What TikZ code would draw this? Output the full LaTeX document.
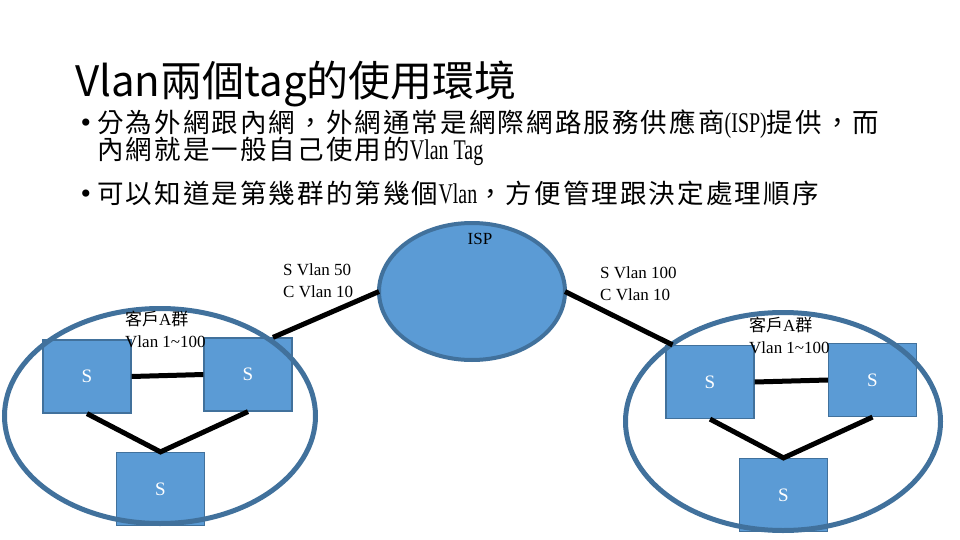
\documentclass[tikz,border=0pt]{standalone}
\usepackage{fontspec}
\setmainfont{Liberation Serif}
\newfontfamily\cjk{Noto Sans CJK TC}
\newfontfamily\cjkb[LetterSpace=8]{Noto Sans CJK TC}
\newfontfamily\nar[FakeStretch=0.7]{Liberation Serif}
\usetikzlibrary{shapes.geometric, calc}
\definecolor{cfill}{HTML}{5B9BD5}
\definecolor{cline}{HTML}{41719C}
\tikzset{
  every picture/.style={x=1pt, y=-1pt},
  title/.style={anchor=base west, inner sep=0pt, font=\cjk\fontsize{42}{48}\selectfont},
  body/.style={anchor=base west, inner sep=0pt, font=\fontsize{26.5}{34}\selectfont},
  sw/.style={draw=cline, fill=cfill, line width=1.2pt, minimum width=88pt, minimum height=73pt,
    inner sep=0pt, text=white, font=\fontsize{19}{22}\selectfont},
  grp/.style={ellipse, draw=cline, line width=5pt, inner sep=0pt},
  isp/.style={ellipse, draw=cline, fill=cfill, line width=4pt, inner sep=0pt, outer sep=0pt,
    minimum width=186pt, minimum height=137pt},
  link/.style={draw=black, line width=5pt},
  lbl/.style={inner sep=0pt, align=left, font=\fontsize{17}{22}\selectfont},
}

\begin{document}
\begin{tikzpicture}
  \useasboundingbox (0,0) rectangle (960,540);
  % title and bullets
  \node[title] (ttl) at (75,97) {Vlan兩個tag的使用環境};
  \node[body, anchor=base, font=\fontsize{30}{34}\selectfont] (dot1) at (86,133) {•};
  \node[body] (l1) at (97,133) {\cjkb 分為外網跟內網，外網通常是網際網路服務供應商{\nar\fontsize{28.5}{34}\selectfont (ISP)}提供，而};
  \node[body] (l2) at (97,160) {\cjkb 內網就是一般自己使用的{\nar\fontsize{28.5}{34}\selectfont Vlan Tag}};
  \node[body, anchor=base, font=\fontsize{30}{34}\selectfont] (dot2) at (86,203.5) {•};
  \node[body] (l3) at (97,203.5) {\cjkb 可以知道是第幾群的第幾個{\nar\fontsize{28.5}{34}\selectfont Vlan}，方便管理跟決定處理順序};
  % ISP
  \node[isp] (isp) at (472,291.5) {};
  \node[lbl] (ispl) at (480,239) {ISP};
  % left group
  \node[sw] (s1) at (87,376.5) {S};
  \node[sw] (s2) at (248,374.5) {S};
  \node[sw] (s3) at (160.5,489) {S};
  % right group
  \node[sw] (s4) at (710,382) {S};
  \node[sw] (s5) at (872.5,380) {S};
  \node[sw] (s6) at (783.5,495) {S};
  \node[grp, minimum width=311pt, minimum height=215pt] (ga) at (160,416) {};
  \node[grp, minimum width=315pt, minimum height=218pt] (gb) at (783,421.5) {};
  % links
  \draw[link] (s1.east) -- (s2.west);
  \draw[link] (s1.south) -- (s3.north) -- (s2.south);
  \draw[link] (s4.east) -- (s5.west);
  \draw[link] (s4.south) -- (s6.north) -- (s5.south);
  \draw[link] ($(s2.north west)!0.78!(s2.north east)$) -- (isp.west);
  \draw[link] (isp.east) -- ($(s4.north west)!0.08!(s4.north east)$);
  % labels
  \node[lbl, anchor=west] (t1) at (283,281) {S Vlan 50\\C Vlan 10};
  \node[lbl, anchor=west] (t2) at (600,284) {S Vlan 100\\C Vlan 10};
  \node[lbl, anchor=west] (g1) at (125,329) {{\cjk 客戶}A{\cjk 群}\\Vlan 1\textasciitilde100};
  \node[lbl, anchor=west] (g2) at (749,335.5) {{\cjk 客戶}A{\cjk 群}\\Vlan 1\textasciitilde100};
\end{tikzpicture}
\end{document}
